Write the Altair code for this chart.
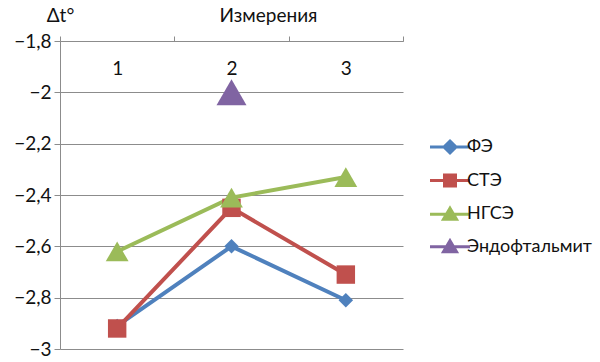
import altair as alt
import pandas as pd

measures = ["1", "2", "3"]
series_names = ["ФЭ", "СТЭ", "НГСЭ", "Эндофтальмит"]
fe = [-2.91, -2.60, -2.81]
ste = [-2.92, -2.45, -2.71]
ngse = [-2.62, -2.41, -2.33]
endo = [None, -2.0, None]
colors = ["#4F81BD", "#C0504D", "#9BBB59", "#8064A2"]
shapes = ["diamond", "square", "triangle-up", "triangle-up"]
sizes = [210, 340, 520, 900]
legend_paths = [
    "M-4,0H4M0,-1.2L1.2,0L0,1.2L-1.2,0Z",
    "M-4,0H4M-1.1,-1.1H1.1V1.1H-1.1Z",
    "M-4,0H4M0,-1.2L1.3,1L-1.3,1Z",
    "M-4,0H4M0,-1.2L1.3,1L-1.3,1Z",
]
y_ticks = [-3, -2.8, -2.6, -2.4, -2.2, -2, -1.8]

rows = []
for name, vals in zip(series_names, [fe, ste, ngse, endo]):
    for m, v in zip(measures, vals):
        if v is not None:
            rows.append({"series": name, "m": m, "v": v})
df = pd.DataFrame(rows)

FONT = "Lato"
FS = 19
GRAY = "#8c8c8c"
TXT = "#111"

x = alt.X(
    "m:O",
    scale=alt.Scale(type="band", domain=measures, paddingInner=0, paddingOuter=0),
    axis=alt.Axis(
        orient="top", title="Измерения", labelAngle=0, tickBand="extent",
        labelPadding=-32, labelBaseline="middle", tickSize=5,
        tickColor=GRAY, domainColor=GRAY, labelFont=FONT, labelFontSize=FS,
        labelColor=TXT, titleFont=FONT, titleFontSize=FS, titleFontWeight="normal",
        titleColor=TXT, titleX=208, titleY=-26, titleBaseline="middle",
    ),
)
y = alt.Y(
    "v:Q",
    scale=alt.Scale(domain=[-3, -1.8], nice=False, zero=False),
    axis=alt.Axis(
        values=y_ticks, grid=True, gridColor=GRAY, domainColor=GRAY, tickColor=GRAY,
        tickSize=6, labelFont=FONT, labelFontSize=FS, labelColor=TXT, labelPadding=3,
        labelExpr="'\u2212' + replace(format(abs(datum.value), '.1~f'), '.', ',')",
        title="Δt°", titleAngle=0, titleX=0, titleY=-26, titleAlign="center",
        titleBaseline="middle", titleFont=FONT, titleFontSize=FS,
        titleFontWeight="normal", titleColor=TXT,
    ),
)

layers = []
for name, col in zip(series_names, colors):
    layers.append(
        alt.Chart(df)
        .transform_filter(alt.datum.series == name)
        .mark_line(strokeWidth=4, color=col)
        .encode(x=x, y=y)
    )
for name, shp, sz, col in zip(series_names, shapes, sizes, colors):
    layers.append(
        alt.Chart(df)
        .transform_filter(alt.datum.series == name)
        .mark_point(filled=True, opacity=1, shape=shp, size=sz, color=col)
        .encode(x=x, y=y)
    )

leg = alt.Legend(
    title=None, orient="none", legendX=381, legendY=97, labelFont=FONT, labelFontSize=18,
    labelColor=TXT, symbolSize=100, symbolStrokeWidth=3, labelOffset=8, labelLimit=300,
    rowPadding=9.6, padding=0, symbolOpacity=1,
)
legend_layer = (
    alt.Chart(df)
    .transform_calculate(v="-10")
    .mark_point(filled=True, strokeWidth=3, clip=True, opacity=1)
    .encode(
        x=x, y=y,
        fill=alt.Fill("series:N", scale=alt.Scale(domain=series_names, range=colors), legend=leg),
        stroke=alt.Stroke("series:N", scale=alt.Scale(domain=series_names, range=colors), legend=leg),
        shape=alt.Shape("series:N", scale=alt.Scale(domain=series_names, range=legend_paths), legend=leg),
    )
)
layers.append(legend_layer)

chart = (
    alt.layer(*layers)
    .properties(
        width=343, height=308,
        autosize=alt.AutoSizeParams(type="none"),
        padding={"left": 60, "top": 41, "right": 197, "bottom": 13},
        background="white",
    )
    .configure_view(stroke=None)
)

chart.save("out.html", embed_options={"renderer": "svg", "actions": False})
